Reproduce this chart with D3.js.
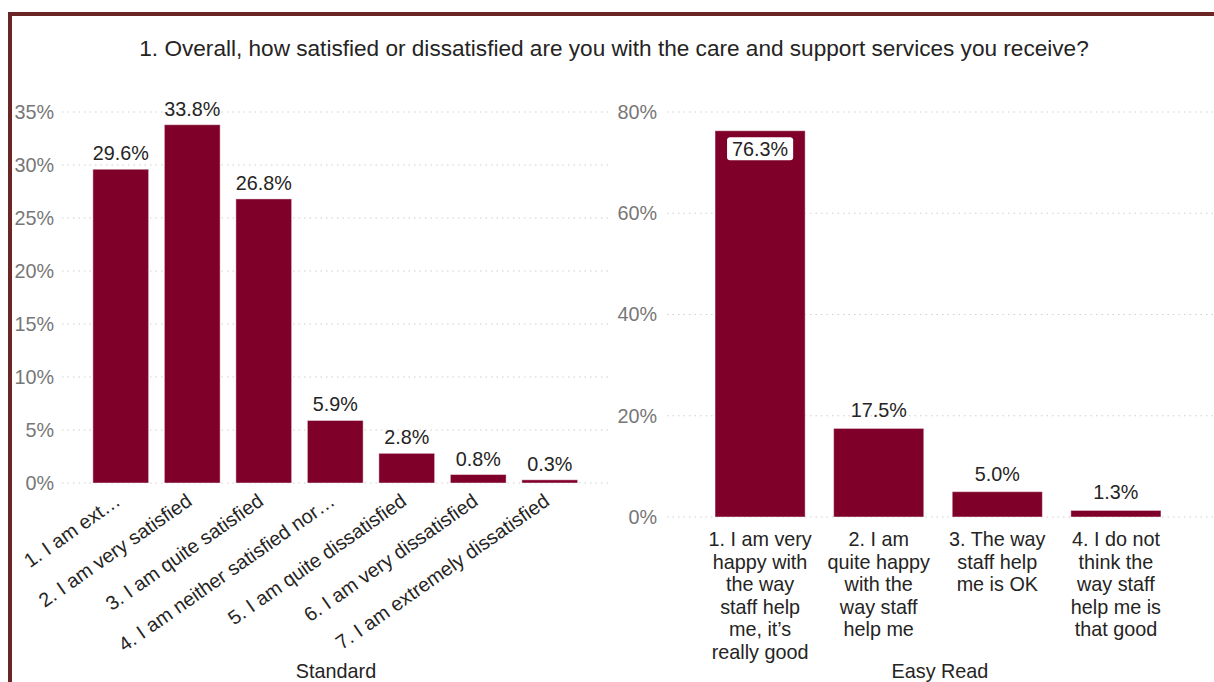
<!DOCTYPE html>
<html><head><meta charset="utf-8">
<script src="https://cdn.jsdelivr.net/npm/d3@7"></script>
<style>
body{margin:0;background:#fff;}
svg{display:block;font-family:"Liberation Sans",Arial,sans-serif;}
</style>
</head><body>
<svg id="c" width="1214" height="682"></svg>
<script>
const chartTitle = "1. Overall, how satisfied or dissatisfied are you with the care and support services you receive?";

const stdCategories = [
  "1. I am ext\u2026",
  "2. I am very satisfied",
  "3. I am quite satisfied",
  "4. I am neither satisfied nor\u2026",
  "5. I am quite dissatisfied",
  "6. I am very dissatisfied",
  "7. I am extremely dissatisfied"
];
const stdValues = [29.6, 33.8, 26.8, 5.9, 2.8, 0.8, 0.3];
const stdTicks = [0, 5, 10, 15, 20, 25, 30, 35];
const stdAxisTitle = "Standard";

const easyCategories = [
  ["1. I am very", "happy with", "the way", "staff help", "me, it\u2019s", "really good"],
  ["2. I am", "quite happy", "with the", "way staff", "help me"],
  ["3. The way", "staff help", "me is OK"],
  ["4. I do not", "think the", "way staff", "help me is", "that good"]
];
const easyValues = [76.3, 17.5, 5.0, 1.3];
const easyTicks = [0, 20, 40, 60, 80];
const easyAxisTitle = "Easy Read";

const BAR = "#7f0029";
const TXT = "#252423";
const AX = "#777777";
const GRID = "#cfcfcf";
const FS = 19.8;

const svg = d3.select("#c");

// frame
svg.append("path")
  .attr("d", "M10,682 V14 H1214")
  .attr("fill", "none")
  .attr("stroke", "#6b2525")
  .attr("stroke-width", 4);

// title
svg.append("text")
  .attr("x", 614).attr("y", 56)
  .attr("text-anchor", "middle")
  .attr("font-size", 22.6)
  .attr("fill", TXT)
  .text(chartTitle);

function fmt(v){ return v.toFixed(1) + "%"; }

// ---------- Standard (left) ----------
const yL = d3.scaleLinear().domain([0, 35]).range([483, 112]);
const xL = d3.scaleBand().domain(d3.range(stdValues.length))
  .range([85, 585.5]).paddingInner(0.22).paddingOuter(0.11);

const gL = svg.append("g");
gL.selectAll("line.grid").data(stdTicks).join("line")
  .attr("x1", 62).attr("x2", 608)
  .attr("y1", d => yL(d)).attr("y2", d => yL(d))
  .attr("stroke", GRID).attr("stroke-width", 1).attr("stroke-dasharray", "1.5,4");

const axL = gL.append("g").attr("transform", "translate(62,0)")
  .call(d3.axisLeft(yL).tickValues(stdTicks).tickSize(0).tickPadding(8).tickFormat(d => d + "%"));
axL.select(".domain").remove();
axL.selectAll("text").attr("font-size", FS).attr("fill", AX).attr("font-family", "Liberation Sans, Arial, sans-serif");

gL.selectAll("rect.bar").data(stdValues).join("rect")
  .attr("x", (d, i) => xL(i)).attr("width", xL.bandwidth())
  .attr("y", d => yL(d)).attr("height", d => yL(0) - yL(d))
  .attr("fill", BAR).attr("stroke", "rgba(255,255,255,0.45)").attr("stroke-width", 1);

gL.selectAll("text.dl").data(stdValues).join("text")
  .attr("x", (d, i) => xL(i) + xL.bandwidth() / 2)
  .attr("y", d => yL(d) - 9)
  .attr("text-anchor", "middle").attr("font-size", FS).attr("fill", TXT)
  .text(d => fmt(d));

gL.selectAll("text.cat").data(stdCategories).join("text")
  .attr("transform", (d, i) => `translate(${xL(i) + xL.bandwidth() / 2 + 1},504) rotate(-35)`)
  .attr("text-anchor", "end").attr("font-size", FS).attr("fill", TXT)
  .text(d => d);

gL.append("text").attr("x", 336).attr("y", 678)
  .attr("text-anchor", "middle").attr("font-size", FS).attr("fill", TXT)
  .text(stdAxisTitle);

// ---------- Easy Read (right) ----------
const yR = d3.scaleLinear().domain([0, 80]).range([517, 112]);
const xR = d3.scaleBand().domain(d3.range(easyValues.length))
  .range([700.8, 1175.2]).paddingInner(0.24).paddingOuter(0.12);

const gR = svg.append("g");
gR.selectAll("line.grid").data(easyTicks).join("line")
  .attr("x1", 667).attr("x2", 1214)
  .attr("y1", d => yR(d)).attr("y2", d => yR(d))
  .attr("stroke", GRID).attr("stroke-width", 1).attr("stroke-dasharray", "1.5,4");

const axR = gR.append("g").attr("transform", "translate(667,0)")
  .call(d3.axisLeft(yR).tickValues(easyTicks).tickSize(0).tickPadding(10).tickFormat(d => d + "%"));
axR.select(".domain").remove();
axR.selectAll("text").attr("font-size", FS).attr("fill", AX).attr("font-family", "Liberation Sans, Arial, sans-serif");

gR.selectAll("rect.bar").data(easyValues).join("rect")
  .attr("x", (d, i) => xR(i)).attr("width", xR.bandwidth())
  .attr("y", d => yR(d)).attr("height", d => yR(0) - yR(d))
  .attr("fill", BAR).attr("stroke", "rgba(255,255,255,0.45)").attr("stroke-width", 1);

easyValues.forEach((v, i) => {
  const cx = xR(i) + xR.bandwidth() / 2;
  const top = yR(v);
  if (top - 28 < yR.range()[1]) {
    const t = gR.append("text")
      .attr("x", cx).attr("y", top + 25)
      .attr("text-anchor", "middle").attr("font-size", FS).attr("fill", TXT)
      .text(fmt(v));
    const bb = t.node().getBBox();
    gR.insert("rect", () => t.node())
      .attr("x", bb.x - 5).attr("y", bb.y - 0.5)
      .attr("width", bb.width + 10).attr("height", bb.height + 1)
      .attr("rx", 3).attr("fill", "#fff");
  } else {
    gR.append("text")
      .attr("x", cx).attr("y", top - 11)
      .attr("text-anchor", "middle").attr("font-size", FS).attr("fill", TXT)
      .text(fmt(v));
  }
});

easyCategories.forEach((lines, i) => {
  const cx = xR(i) + xR.bandwidth() / 2;
  const t = gR.append("text").attr("text-anchor", "middle").attr("font-size", FS).attr("fill", TXT);
  lines.forEach((ln, j) => {
    t.append("tspan").attr("x", cx).attr("y", 546 + j * 22.6).text(ln);
  });
});

gR.append("text").attr("x", 940).attr("y", 678)
  .attr("text-anchor", "middle").attr("font-size", FS).attr("fill", TXT)
  .text(easyAxisTitle);
</script>
</body></html>
